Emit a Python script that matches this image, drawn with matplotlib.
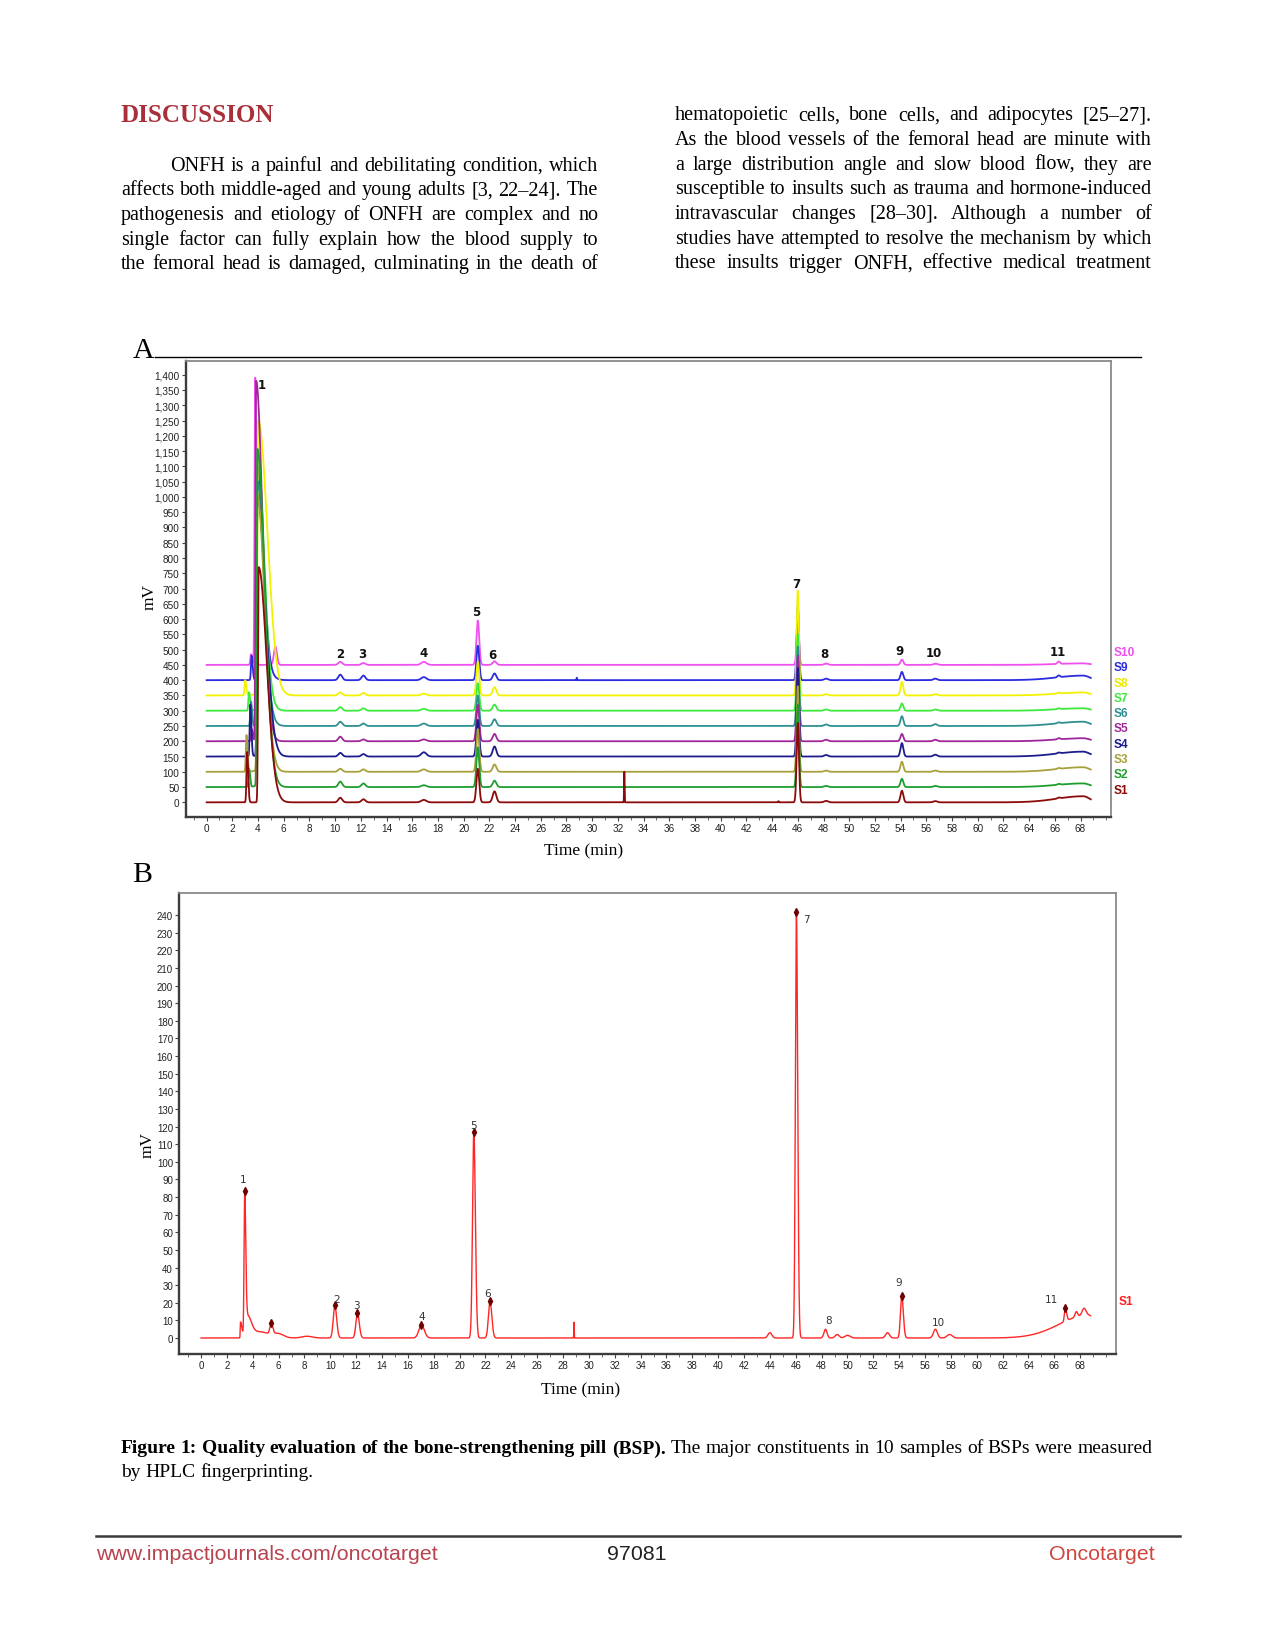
import numpy as np
import matplotlib
matplotlib.use("Agg")
import matplotlib.pyplot as plt
from matplotlib.ticker import MultipleLocator, FuncFormatter
from matplotlib.lines import Line2D

W, H = 1275, 1649
fig = plt.figure(figsize=(W / 100, H / 100), dpi=100)
fig.patch.set_facecolor("white")

def fx(p):
    return p / W

def fy(p):
    return 1 - p / H

SERIF = ["Liberation Serif", "DejaVu Serif"]
SANS = ["Liberation Sans", "DejaVu Sans"]

# ---------------------------------------------------------------- data (panel A)
samples = ["S1", "S2", "S3", "S4", "S5", "S6", "S7", "S8", "S9", "S10"]
sample_offsets = [0, 50, 100, 150, 200, 250, 300, 350, 400, 450]
sample_colors = ["#8B0A0A", "#1F9E2F", "#A8A03A", "#1C1C8C", "#A0279A",
                 "#2E9090", "#3DEB3D", "#F2F200", "#2B2BE0", "#F050F0"]
label_colors = ["#8B0A0A", "#1F9E2F", "#A8A03A", "#1C1C8C", "#A0279A",
                "#2E9090", "#3DEB3D", "#E8E800", "#2B2BE0", "#F050F0"]

# peak-1 cluster, per sample (S1..S10), relative to each baseline
pre_rt = [3.15, 3.30, 3.10, 3.40, 3.50, 3.45, 3.30, 3.00, 3.50, 3.45]
pre_h = [165, 60, 120, 170, 40, 80, 60, 50, 80, 35]
main_rt = [4.05, 3.95, 3.95, 3.95, 3.85, 3.95, 3.95, 4.00, 3.95, 3.78]
main_h = [770, 1100, 900, 850, 1180, 800, 850, 890, 700, 940]
main_sr = [0.62, 0.55, 0.55, 0.60, 0.50, 0.50, 0.50, 0.70, 0.45, 0.07]
tail_rt = [4.60, 4.70, 4.60, 4.60, 4.60, 4.80, 4.70, 4.60, 4.80, 5.35]
tail_h = [0, 20, 15, 10, 0, 8, 15, 20, 10, 60]
tail_w = [0.5, 0.5, 0.5, 0.5, 0.5, 0.5, 0.5, 0.5, 0.5, 0.12]

# peaks 2..11 (shared retention times), heights per sample
shared_rt = [10.4, 12.2, 16.9, 21.1, 22.4, 46.0, 48.2, 54.1, 56.7, 66.3]
shared_w = [0.15, 0.15, 0.20, 0.11, 0.14, 0.09, 0.15, 0.11, 0.15, 0.10]
shared_h = [
    [15, 10, 8, 110, 36, 260, 5, 38, 4, 3],
    [18, 12, 6, 130, 21, 270, 4, 27, 4, 3],
    [10, 8, 8, 140, 24, 280, 4, 33, 4, 3],
    [12, 8, 14, 120, 33, 290, 5, 44, 6, 3],
    [15, 6, 6, 120, 24, 280, 5, 24, 5, 4],
    [14, 8, 8, 100, 22, 260, 5, 32, 6, 3],
    [12, 8, 6, 90, 20, 250, 4, 24, 4, 3],
    [10, 8, 6, 110, 27, 343, 4, 44, 4, 3],
    [18, 15, 10, 113, 22, 244, 5, 27, 5, 6],
    [10, 6, 10, 145, 12, 140, 4, 17, 4, 8],
]
end_rt = 68.2
end_h = [20, 12, 15, 16, 10, 14, 8, 10, 15, 5]
spike_sample = [0, 0, 8]
spike_rt = [32.5, 44.5, 28.8]
spike_h = [100, 4, 8]

peak_labels_A = ["1", "2", "3", "4", "5", "6", "7", "8", "9", "10", "11"]
peak_label_t_A = [4.26, 10.4, 12.1, 16.9, 21.0, 22.2, 45.9, 48.1, 53.9, 56.6, 66.2]
peak_label_y_A = [1369, 488, 488, 491, 624, 484, 716, 488, 498, 491, 495]

# ---------------------------------------------------------------- data (panel B, S1)
b_rt = [3.05, 3.38, 3.60, 4.50, 5.43, 6.00, 8.20, 10.35, 12.10, 17.05, 21.10,
        22.35, 28.85, 44.00, 46.05, 48.30, 49.20, 50.00, 53.10, 54.20, 56.80,
        57.90, 68.60, 66.85, 67.70, 68.30]
b_h = [9, 82, 12, 3.5, 6, 2, 1, 18.5, 14, 7.5, 117,
       21, 9, 3, 242, 5, 2, 1.5, 3, 24, 5,
       2, 13, 7.5, 3, 4]
b_sl = [0.02, 0.05, 0.10, 0.50, 0.10, 0.40, 0.40, 0.12, 0.12, 0.20, 0.10,
        0.12, 0.015, 0.15, 0.08, 0.12, 0.15, 0.20, 0.15, 0.10, 0.15,
        0.20, 2.20, 0.07, 0.10, 0.15]
b_sr = [0.12, 0.08, 0.30, 0.80, 0.12, 0.40, 0.40, 0.14, 0.14, 0.22, 0.12,
        0.14, 0.015, 0.15, 0.10, 0.12, 0.15, 0.20, 0.15, 0.12, 0.15,
        0.20, 0.80, 0.10, 0.10, 0.15]
b_marker_t = [3.38, 5.43, 10.35, 12.10, 17.05, 21.10, 22.35, 46.05, 54.20, 66.85]
peak_labels_B = ["1", "2", "3", "4", "5", "6", "7", "8", "9", "10", "11"]
peak_label_t_B = [3.25, 10.5, 12.0, 17.1, 21.1, 22.2, 46.8, 48.5, 54.0, 57.0, 65.8]
peak_label_y_B = [90, 22, 18.5, 12.5, 121, 25.5, 238, 10, 31.5, 9, 22]

time_ticks = list(range(0, 69, 2))

# ---------------------------------------------------------------- helpers
def peak(t, t0, h, sl, sr):
    s = np.where(t < t0, sl, sr)
    return h * np.exp(-0.5 * ((t - t0) / s) ** 2)

t = np.arange(0.0, 68.8, 0.004)

def style_axes(ax, fs):
    for side in ["top", "right"]:
        ax.spines[side].set_color("#8a8a8a")
        ax.spines[side].set_linewidth(1.3)
    for side in ["left", "bottom"]:
        ax.spines[side].set_color("#3c3c3c")
        ax.spines[side].set_linewidth(1.7)
    ax.tick_params(axis="both", which="major", direction="out", length=3,
                   width=0.8, color="#444444", labelcolor="#222222",
                   labelsize=fs, pad=1.5)
    ax.tick_params(axis="x", which="minor", direction="out", length=2,
                   width=0.6, color="#555555")
    for lab in ax.get_xticklabels() + ax.get_yticklabels():
        lab.set_family(SANS)
    ax.set_facecolor("white")

# ---------------------------------------------------------------- panel A
axA = fig.add_axes([fx(185.7), fy(818), fx(1111) - fx(185.7), fy(362.3) - fy(818)])
axA.set_xlim(-1.63, 70.37)
axA.set_ylim(-48, 1443.9)

for i in reversed(range(len(samples))):
    y = np.full_like(t, float(sample_offsets[i]))
    y += peak(t, pre_rt[i], pre_h[i], 0.05, 0.08)
    y += peak(t, main_rt[i], main_h[i], 0.05, main_sr[i])
    y += peak(t, tail_rt[i], tail_h[i], tail_w[i], tail_w[i])
    for rt, w, h in zip(shared_rt, shared_w, shared_h[i]):
        y += peak(t, rt, h, w, w)
    y += peak(t, end_rt, end_h[i], 2.0, 0.5)
    for s, rt, h in zip(spike_sample, spike_rt, spike_h):
        if s == i:
            y += peak(t, rt, h, 0.02, 0.02)
    axA.plot(t, y, color=sample_colors[i], lw=1.3, solid_joinstyle="round")

for lab, tt, yy in zip(peak_labels_A, peak_label_t_A, peak_label_y_A):
    axA.text(tt, yy, lab, ha="center", va="center", fontsize=8.5,
             fontweight="bold", family=["DejaVu Sans"], color="#111111")

for i, s in enumerate(samples):
    axA.text(1.003, sample_offsets[i] + 42, s, transform=axA.get_yaxis_transform(),
             ha="left", va="center", fontsize=8.6, fontweight="bold",
             family=SANS, color=label_colors[i], clip_on=False)

axA.set_xticks(time_ticks)
axA.xaxis.set_minor_locator(MultipleLocator(1))
axA.set_yticks(list(range(0, 1401, 50)))
axA.yaxis.set_major_formatter(FuncFormatter(lambda v, p: f"{int(v):,}"))
style_axes(axA, 7.2)

fig.text(fx(149.4), fy(597.5), "mV", rotation=90, ha="center", va="center",
         fontsize=12.5, family=SERIF)
fig.text(fx(584), fy(851), "Time (min)", ha="center", va="center",
         fontsize=12.5, family=SERIF)
fig.text(fx(144), fy(358), "A", ha="center", va="baseline", fontsize=21.5, family=SERIF)
fig.add_artist(Line2D([fx(155), fx(1141)], [fy(357.5), fy(357.5)], color="black", lw=1.0))

# ---------------------------------------------------------------- panel B
axB = fig.add_axes([fx(179.3), fy(1354.5), fx(1116) - fx(179.3), fy(893.5) - fy(1354.5)])
axB.set_xlim(-1.68, 70.77)
axB.set_ylim(-8.8, 252.8)

yb = np.zeros_like(t)
for rt, h, sl, sr in zip(b_rt, b_h, b_sl, b_sr):
    yb += peak(t, rt, h, sl, sr)
axB.plot(t, yb, color="#FF2626", lw=1.0)

mk_y = [yb[np.abs(t - mt) < 0.25].max() for mt in b_marker_t]
axB.plot(b_marker_t, mk_y, ls="none", marker="d", ms=4, color="#6E0000")

for lab, tt, yy in zip(peak_labels_B, peak_label_t_B, peak_label_y_B):
    axB.text(tt, yy, lab, ha="center", va="center", fontsize=7.5,
             family=["DejaVu Sans"], color="#333333")

axB.text(1.003, 21, "S1", transform=axB.get_yaxis_transform(), ha="left",
         va="center", fontsize=8.6, fontweight="bold", family=SANS,
         color="#FF2020", clip_on=False)

axB.set_xticks(time_ticks)
axB.xaxis.set_minor_locator(MultipleLocator(1))
axB.set_yticks(list(range(0, 241, 10)))
style_axes(axB, 7.0)

fig.text(fx(147.3), fy(1144.6), "mV", rotation=90, ha="center", va="center",
         fontsize=12.5, family=SERIF)
fig.text(fx(580.7), fy(1390.7), "Time (min)", ha="center", va="center",
         fontsize=12.5, family=SERIF)
fig.text(fx(142.5), fy(881.7), "B", ha="center", va="baseline", fontsize=21.5, family=SERIF)

# ---------------------------------------------------------------- page text
renderer = fig.canvas.get_renderer()

def text_width(s, fs, weight="normal"):
    o = fig.text(0, 0, s, fontsize=fs, family=SERIF, fontweight=weight)
    w = o.get_window_extent(renderer).width
    o.remove()
    return w

def fit_size(segment_lines, avail, base=12.0):
    best = 1e9
    for segs, av in zip(segment_lines, avail):
        total = 0.0
        for k, (txt, wt) in enumerate(segs):
            total += text_width(txt, base, wt)
            if k:
                total += text_width("a a", base) - text_width("aa", base)
        best = min(best, base * av / total)
    return best * 0.995

def draw_line(segments, x0, x1, ybase, fs, justify=True, color="black"):
    words = []
    for txt, wt in segments:
        for w in txt.split(" "):
            if w:
                words.append((w, wt))
    objs = [fig.text(fx(x0), fy(ybase), w, fontweight=wt, va="baseline", ha="left",
                     fontsize=fs, family=SERIF, color=color) for w, wt in words]
    widths = [o.get_window_extent(renderer).width for o in objs]
    if justify and len(objs) > 1:
        gap = (x1 - x0 - sum(widths)) / (len(objs) - 1)
    else:
        gap = text_width("a a", fs) - text_width("aa", fs)
    x = x0
    for o, w in zip(objs, widths):
        o.set_x(fx(x))
        x += w + gap

fig.text(fx(121), fy(121.7), "DISCUSSION", ha="left", va="baseline",
         fontsize=18, fontweight="bold", family=SERIF, color="#A8303A")

left_lines = [
    "ONFH is a painful and debilitating condition, which",
    "affects both middle-aged and young adults [3, 22–24]. The",
    "pathogenesis and etiology of ONFH are complex and no",
    "single factor can fully explain how the blood supply to",
    "the femoral head is damaged, culminating in the death of",
]
right_lines = [
    "hematopoietic cells, bone cells, and adipocytes [25–27].",
    "As the blood vessels of the femoral head are minute with",
    "a large distribution angle and slow blood flow, they are",
    "susceptible to insults such as trauma and hormone-induced",
    "intravascular changes [28–30]. Although a number of",
    "studies have attempted to resolve the mechanism by which",
    "these insults trigger ONFH, effective medical treatment",
]
left_x0 = [170] + [121] * 4
body_segments = [[(l, "normal")] for l in left_lines + right_lines]
body_avail = [598 - x for x in left_x0] + [1152 - 675] * len(right_lines)
body_fs = fit_size(body_segments, body_avail)

for k, line in enumerate(left_lines):
    draw_line([(line, "normal")], left_x0[k], 598, 170.7 + 24.65 * k, body_fs)
for k, line in enumerate(right_lines):
    draw_line([(line, "normal")], 675, 1152, 120.3 + 24.65 * k, body_fs)

cap_segments = [("Figure 1: Quality evaluation of the bone-strengthening pill (BSP).", "bold"),
                ("The major constituents in 10 samples of BSPs were measured", "normal")]
cap_fs = fit_size([cap_segments], [1153 - 121])
draw_line(cap_segments, 121, 1153, 1453.5, cap_fs)
draw_line([("by HPLC fingerprinting.", "normal")], 121, 1153, 1477.5, cap_fs, justify=False)

# footer
fig.add_artist(Line2D([fx(95.7), fx(1180)], [fy(1537), fy(1537)], color="#3a3a3a", lw=1.8))
fig.text(fx(95.7), fy(1555), "www.impactjournals.com/oncotarget", ha="left", va="center",
         fontsize=15.4, family=SANS, color="#B8434F")
fig.text(fx(636.5), fy(1555), "97081", ha="center", va="center",
         fontsize=15.4, family=SANS, color="#222222")
fig.text(fx(1155), fy(1555), "Oncotarget", ha="right", va="center",
         fontsize=15.4, family=SANS, color="#D0453D")

fig.savefig("out.png", dpi=100, facecolor="white")
